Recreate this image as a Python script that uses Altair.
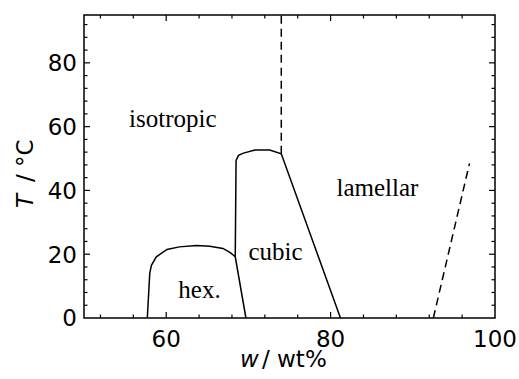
import altair as alt
import pandas as pd

# boundary lines (w in wt%, T in °C)
hex_w = [57.7, 58.0, 58.2, 58.8, 60.1, 61.6, 63.7, 65.3, 66.9, 67.8, 68.4, 69.7]
hex_T = [0.0, 14.0, 16.5, 19.2, 21.5, 22.3, 22.7, 22.5, 21.8, 20.5, 19.2, 0.0]
cub_w = [68.4, 68.5, 68.8, 69.4, 70.8, 72.6, 74.0, 81.2]
cub_T = [19.2, 49.4, 51.0, 51.7, 52.7, 52.7, 51.5, 0.0]
dash1_w = [74.0, 74.0]
dash1_T = [51.5, 95.0]
dash2_w = [92.5, 96.9]
dash2_T = [0.0, 48.5]

# phase labels
lab_text = ["isotropic", "hex.", "cubic", "lamellar"]
lab_w = [60.8, 64.05, 73.3, 85.7]
lab_T = [59.8, 6.2, 18.3, 38.4]

# ticks
x_labels = [60, 80, 100]
y_labels = [0, 20, 40, 60, 80]
x_major = [60, 80]
x_minor = [52, 56, 64, 68, 72, 76, 84, 88, 92, 96]
y_major = [20, 40, 60, 80]
y_minor = [4, 8, 12, 16, 24, 28, 32, 36, 44, 48, 52, 56, 64, 68, 72, 76, 84, 88, 92]

W, H = 411, 303
MAJ, MIN = 6, 3.5
SANS = "DejaVu Sans"
FS = 23


def seg(name, ws, ts):
    return pd.DataFrame({"w": ws, "T": ts, "seg": name, "o": range(len(ws))})


solid = pd.concat([seg("hex", hex_w, hex_T), seg("cubic", cub_w, cub_T)])
dashed = pd.concat([seg("d1", dash1_w, dash1_T), seg("d2", dash2_w, dash2_T)])
labels = pd.DataFrame({"t": lab_text, "w": lab_w, "T": lab_T})

xs = alt.Scale(domain=[50, 100], nice=False, zero=False)
ys = alt.Scale(domain=[0, 95], nice=False, zero=False)
X = alt.X("w:Q", scale=xs, axis=None)
Y = alt.Y("T:Q", scale=ys, axis=None)

solid_l = alt.Chart(solid).mark_line(color="black", strokeWidth=1.5).encode(
    x=X, y=Y, detail="seg:N", order="o:Q")
dashed_l = alt.Chart(dashed).mark_line(color="black", strokeWidth=1.5, strokeDash=[8, 5]).encode(
    x=X, y=Y, detail="seg:N", order="o:Q")
text_l = alt.Chart(labels).mark_text(font="Liberation Serif", fontSize=25, color="black",
                                     align="center", baseline="alphabetic").encode(
    x=X, y=Y, text="t:N")


def xticks(vals, y0, y1):
    return alt.Chart(pd.DataFrame({"w": vals})).mark_rule(color="black", strokeWidth=1.2).encode(
        x=X, y=alt.value(y0), y2=alt.value(y1))


def yticks(vals, x0, x1):
    return alt.Chart(pd.DataFrame({"T": vals})).mark_rule(color="black", strokeWidth=1.2).encode(
        y=Y, x=alt.value(x0), x2=alt.value(x1))


ticks = [
    xticks(x_major, H, H - MAJ), xticks(x_minor, H, H - MIN),
    xticks(x_major, 0, MAJ), xticks(x_minor, 0, MIN),
    yticks(y_major, 0, MAJ), yticks(y_minor, 0, MIN),
    yticks(y_major, W, W - MAJ), yticks(y_minor, W, W - MIN),
]

xlab = alt.Chart(pd.DataFrame({"w": x_labels})).mark_text(
    font=SANS, fontSize=FS, color="black", align="center", baseline="alphabetic").encode(
    x=X, y=alt.value(331.5), text=alt.Text("w:Q", format="d"))
ylab = alt.Chart(pd.DataFrame({"T": y_labels})).mark_text(
    font=SANS, fontSize=FS, color="black", align="right", baseline="alphabetic", dy=8.4).encode(
    y=Y, x=alt.value(-7), text=alt.Text("T:Q", format="d"))


def txt(s, x, y, italic=False, angle=0):
    kw = dict(text=s, font=SANS, fontSize=FS, color="black", align="left",
              baseline="alphabetic")
    if italic:
        kw["fontStyle"] = "italic"
    if angle:
        kw["angle"] = angle
    return alt.Chart(alt.Data(values=[{}])).mark_text(**kw).encode(x=alt.value(x), y=alt.value(y))


titles = [
    txt("w", 156, 352, italic=True),
    txt("/ wt%", 178, 352),
    txt("T", -51, 193, italic=True, angle=270),
    txt("/ °C", -51, 167, angle=270),
]

chart = alt.layer(solid_l, dashed_l, text_l, *ticks, xlab, ylab, *titles).properties(
    width=W, height=H,
    autosize=alt.AutoSizeParams(type="none"),
    padding={"left": 84, "top": 15, "right": 24, "bottom": 61},
    background="white",
).configure_view(stroke="black", strokeWidth=1.5)

chart.save("out.html", embed_options={"renderer": "svg", "actions": False})
